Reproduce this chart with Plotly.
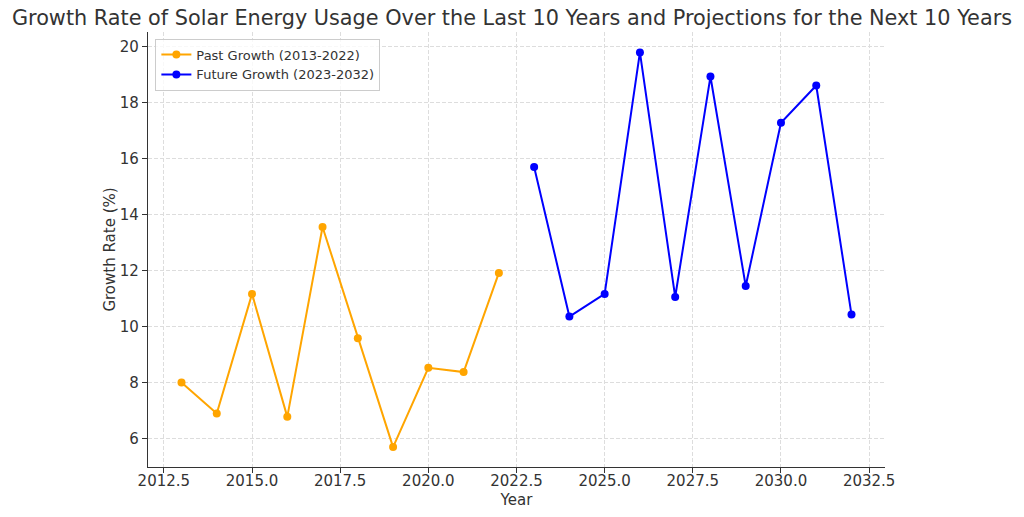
import plotly.graph_objects as go

past_years = [2013, 2014, 2015, 2016, 2017, 2018, 2019, 2020, 2021, 2022]
past_growth = [8.02, 6.91, 11.18, 6.79, 13.57, 9.6, 5.71, 8.54, 8.39, 11.93]
future_years = [2023, 2024, 2025, 2026, 2027, 2028, 2029, 2030, 2031, 2032]
future_growth = [15.71, 10.37, 11.18, 19.8, 11.07, 18.94, 11.46, 17.29, 18.62, 10.44]

x_ticks = [2012.5, 2015.0, 2017.5, 2020.0, 2022.5, 2025.0, 2027.5, 2030.0, 2032.5]
y_ticks = [6, 8, 10, 12, 14, 16, 18, 20]

font = "DejaVu Sans"
W, H = 1016, 501
L, R, T, B = 140, 139, 24, 42

fig = go.Figure()
fig.add_trace(go.Scatter(x=past_years, y=past_growth, mode="lines+markers",
                         name="Past Growth (2013-2022)",
                         line=dict(color="orange", width=2), marker=dict(size=8, color="orange")))
fig.add_trace(go.Scatter(x=future_years, y=future_growth, mode="lines+markers",
                         name="Future Growth (2023-2032)",
                         line=dict(color="blue", width=2), marker=dict(size=8, color="blue")))

fig.update_layout(
    width=W, height=H,
    margin=dict(l=L, r=R, t=T, b=B, autoexpand=False),
    paper_bgcolor="white", plot_bgcolor="white",
    font=dict(family=font, color="#333333"),
    title=dict(text="Growth Rate of Solar Energy Usage Over the Last 10 Years and Projections for the Next 10 Years",
               x=504 / W, xanchor="center", y=1 - 10 / H, yanchor="middle",
               font=dict(size=20.8, family=font, color="#333333")),
    legend=dict(x=0.01, y=0.985, xanchor="left", yanchor="top",
                bgcolor="rgba(255,255,255,0.8)", bordercolor="#cccccc", borderwidth=1,
                font=dict(size=13, family=font, color="#333333"),
                tracegroupgap=0, itemwidth=30),
    xaxis=dict(range=[2012.05, 2032.95], tickvals=x_ticks,
               ticktext=[f"{v:.1f}" for v in x_ticks],
               showgrid=True, gridcolor="#dddddd", griddash="4px,2px", gridwidth=1,
               showline=True, linecolor="#333333", linewidth=1.3,
               ticks="outside", ticklen=5, tickcolor="#333333",
               tickfont=dict(size=15), zeroline=False, automargin=False,
               ticklabelstandoff=-5,
               title=dict(text="Year", font=dict(size=15), standoff=7)),
    yaxis=dict(range=[5.0, 20.53], tickvals=y_ticks,
               showgrid=True, gridcolor="#dddddd", griddash="4px,2px", gridwidth=1,
               showline=True, linecolor="#333333", linewidth=1.3,
               ticks="outside", ticklen=5, tickcolor="#333333",
               tickfont=dict(size=15), zeroline=False, automargin=False,
               title=dict(text="Growth Rate (%)", font=dict(size=15), standoff=0)),
)
fig.write_html("out.html")
